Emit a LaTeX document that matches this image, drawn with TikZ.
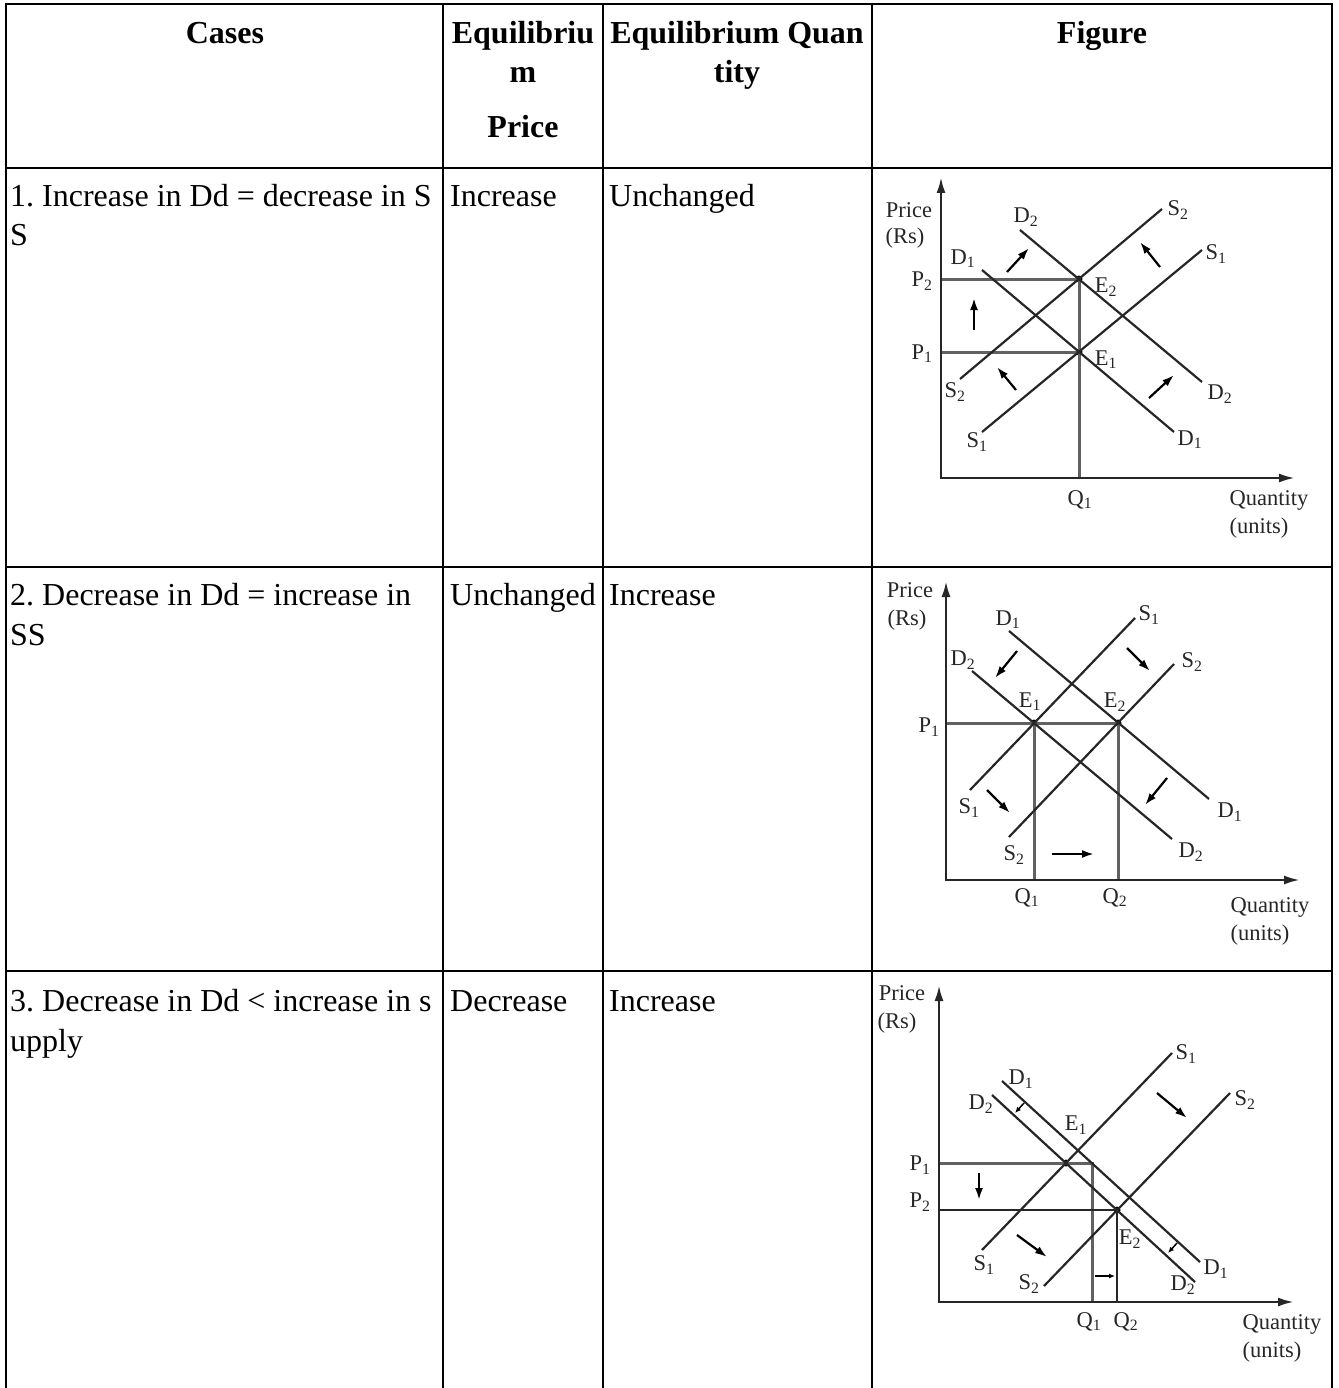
\documentclass[tikz,border=0pt]{standalone}
\usepackage{fontspec}
\setmainfont{Liberation Serif}
\usepackage{tikz}
\usetikzlibrary{arrows.meta}
\frenchspacing
\newcommand\sbs[2]{#1\textsubscript{#2}}
\tikzstyle{rule}=[line width=2pt,black]
\tikzstyle{cell}=[inner sep=0pt,anchor=base west,font=\fontsize{32}{40}\selectfont]
\tikzstyle{head}=[inner sep=0pt,anchor=base,font=\fontsize{32}{40}\selectfont\bfseries]
\tikzstyle{lbl}=[inner sep=0pt,font=\fontsize{22.5}{26}\selectfont,text=black!85]
\tikzstyle{curve}=[line width=2.2pt,draw=black!85]
\tikzstyle{guide}=[line width=3pt,draw=black!62]
\tikzstyle{thin}=[line width=2.2pt,draw=black!85]
\tikzstyle{axis}=[line width=2.6pt,draw=black!85,{Latex[length=16pt,width=9pt]}-{Latex[length=16pt,width=9pt]}]
\tikzstyle{move}=[line width=2.2pt,-{Latex[length=12pt,width=8pt]}]
\tikzstyle{nudge}=[line width=1.5pt,-{Latex[length=6pt,width=5pt]}]
\tikzstyle{eq}=[fill=black,circle,inner sep=0pt,minimum size=7pt]
\begin{document}
\begin{tikzpicture}[x=1pt,y=-1pt]
	\useasboundingbox (0,0) rectangle (1338,1388);
	% table
	\foreach \x in {6,443,603,872,1332} \draw[rule] (\x,3) -- (\x,1388);
	\foreach \y in {4,168,567,971} \draw[rule] (6,\y) -- (1332,\y);
	\node[head] (cases) at (225,44) {Cases};
	\node[head] (price) at (523,44) {Equilibriu};
	\node[head] (price2) at (523,83) {m};
	\node[head] (price3) at (523,138) {Price};
	\node[head] (qty) at (737,44) {Equilibrium Quan};
	\node[head] (qty2) at (737,83) {tity};
	\node[head] (fig) at (1102,44) {Figure};
	\node[cell] (c1) at (10,207) {1. Increase in Dd = decrease in S};
	\node[cell] (c1b) at (10,246) {S};
	\node[cell] (p1) at (450,207) {Increase};
	\node[cell] (q1) at (609,207) {Unchanged};
	\node[cell] (c2) at (10,605) {2. Decrease in Dd = increase in};
	\node[cell] (c2b) at (10,645) {SS};
	\node[cell] (p2) at (450,605) {Unchanged};
	\node[cell] (q2) at (609,605) {Increase};
	\node[cell] (c3) at (10,1011) {3. Decrease in Dd < increase in s};
	\node[cell] (c3b) at (10,1051) {upply};
	\node[cell] (p3) at (450,1011) {Decrease};
	\node[cell] (q3) at (609,1011) {Increase};
	% figure 1
	\coordinate (a-o) at (941,478); \coordinate (a-y) at (941,177); \coordinate (a-x) at (1295,478);
	\coordinate (a-p1) at (941,352); \coordinate (a-p2) at (941,279); \coordinate (a-q1) at (1079,478);
	\node[eq] (a-e1) at (1079,352) {}; \node[eq] (a-e2) at (1079,279) {};
	\draw[guide] (a-p2) -- (a-e2.center) -- (a-q1);
	\draw[guide] (a-p1) -- (a-e1.center);
	\draw[axis] (a-y) |- (a-x);
	\coordinate (a-d1a) at (982,270); \coordinate (a-d1b) at (1174,432);
	\coordinate (a-d2a) at (1020,230); \coordinate (a-d2b) at (1202,382);
	\coordinate (a-s1a) at (982,432); \coordinate (a-s1b) at (1202,250);
	\coordinate (a-s2a) at (960,379); \coordinate (a-s2b) at (1162,209);
	\draw[curve] (a-d1a) -- (a-d1b);
	\draw[curve] (a-d2a) -- (a-d2b);
	\draw[curve] (a-s1a) -- (a-s1b);
	\draw[curve] (a-s2a) -- (a-s2b);
	\draw[move] (1007,272) coordinate (a-m1) -- (1029,248) coordinate (a-m1e);
	\draw[move] (1160,267) coordinate (a-m2) -- (1140,242) coordinate (a-m2e);
	\draw[move] (974,330) coordinate (a-m3) -- (974,298) coordinate (a-m3e);
	\draw[move] (1016,390) coordinate (a-m4) -- (997,367) coordinate (a-m4e);
	\draw[move] (1149,398) coordinate (a-m5) -- (1174,375) coordinate (a-m5e);
	\node[lbl] (a-price) at (909,210) {Price};
	\node[lbl] (a-rs) at (905,238) {(Rs)};
	\node[lbl] (a-lp2) at (922,281) {\sbs{P}{2}};
	\node[lbl] (a-lp1) at (922,354) {\sbs{P}{1}};
	\node[lbl] (a-ld2) at (1026,217) {\sbs{D}{2}};
	\node[lbl] (a-ld1) at (963,259) {\sbs{D}{1}};
	\node[lbl] (a-ls2) at (1178,210) {\sbs{S}{2}};
	\node[lbl] (a-ls1) at (1216,254) {\sbs{S}{1}};
	\node[lbl] (a-le2) at (1106,287) {\sbs{E}{2}};
	\node[lbl] (a-le1) at (1106,360) {\sbs{E}{1}};
	\node[lbl] (a-ls2b) at (955,392) {\sbs{S}{2}};
	\node[lbl] (a-ld2b) at (1220,394) {\sbs{D}{2}};
	\node[lbl] (a-ls1b) at (977,442) {\sbs{S}{1}};
	\node[lbl] (a-ld1b) at (1190,440) {\sbs{D}{1}};
	\node[lbl] (a-lq1) at (1080,500) {\sbs{Q}{1}};
	\node[lbl] (a-qty) at (1269,500) {Quantity};
	\node[lbl] (a-units) at (1259,528) {(units)};
	% figure 2
	\coordinate (b-y) at (946,581); \coordinate (b-x) at (1300,880);
	\coordinate (b-p1) at (946,723); \coordinate (b-q1) at (1034,880); \coordinate (b-q2) at (1118,880);
	\node[eq] (b-e1) at (1034,723) {}; \node[eq] (b-e2) at (1118,723) {};
	\draw[guide] (b-p1) -- (b-e2.center) -- (b-q2);
	\draw[guide] (b-e1.center) -- (b-q1);
	\draw[axis] (b-y) |- (b-x);
	\coordinate (b-d1a) at (1009,631); \coordinate (b-d1b) at (1209,799);
	\coordinate (b-d2a) at (972,671); \coordinate (b-d2b) at (1172,839);
	\coordinate (b-s1a) at (970,790); \coordinate (b-s1b) at (1135,618);
	\coordinate (b-s2a) at (1009,837); \coordinate (b-s2b) at (1174,664);
	\draw[curve] (b-d1a) -- (b-d1b);
	\draw[curve] (b-d2a) -- (b-d2b);
	\draw[curve] (b-s1a) -- (b-s1b);
	\draw[curve] (b-s2a) -- (b-s2b);
	\draw[move] (1017,651) coordinate (b-m1) -- (995,678) coordinate (b-m1e);
	\draw[move] (1127,648) coordinate (b-m2) -- (1150,671) coordinate (b-m2e);
	\draw[move] (987,790) coordinate (b-m3) -- (1010,813) coordinate (b-m3e);
	\draw[move] (1167,778) coordinate (b-m4) -- (1145,805) coordinate (b-m4e);
	\draw[move] (1052,854) coordinate (b-m5) -- (1094,854) coordinate (b-m5e);
	\node[lbl] (b-price) at (910,590) {Price};
	\node[lbl] (b-rs) at (907,620) {(Rs)};
	\node[lbl] (b-ld1) at (1008,620) {\sbs{D}{1}};
	\node[lbl] (b-ld2) at (963,660) {\sbs{D}{2}};
	\node[lbl] (b-ls1) at (1149,615) {\sbs{S}{1}};
	\node[lbl] (b-ls2) at (1192,662) {\sbs{S}{2}};
	\node[lbl] (b-le1) at (1030,702) {\sbs{E}{1}};
	\node[lbl] (b-le2) at (1115,702) {\sbs{E}{2}};
	\node[lbl] (b-lp1) at (929,727) {\sbs{P}{1}};
	\node[lbl] (b-ls1b) at (969,808) {\sbs{S}{1}};
	\node[lbl] (b-ls2b) at (1014,855) {\sbs{S}{2}};
	\node[lbl] (b-ld1b) at (1230,812) {\sbs{D}{1}};
	\node[lbl] (b-ld2b) at (1191,852) {\sbs{D}{2}};
	\node[lbl] (b-lq1) at (1027,898) {\sbs{Q}{1}};
	\node[lbl] (b-lq2) at (1115,898) {\sbs{Q}{2}};
	\node[lbl] (b-qty) at (1270,907) {Quantity};
	\node[lbl] (b-units) at (1260,935) {(units)};
	% figure 3
	\coordinate (c-y) at (939,985); \coordinate (c-x) at (1294,1302);
	\coordinate (c-p1) at (939,1163); \coordinate (c-p2) at (939,1210);
	\coordinate (c-q1t) at (1092,1163); \coordinate (c-q1) at (1092,1302); \coordinate (c-q2) at (1117,1302);
	\node[eq] (c-e1) at (1066,1163) {}; \node[eq] (c-e2) at (1117,1210) {};
	\draw[guide] (c-p1) -- (c-q1t) -- (c-q1);
	\draw[thin] (c-p2) -- (c-e2.center) -- (c-q2);
	\draw[axis] (c-y) |- (c-x);
	\coordinate (c-d1a) at (1002,1081); \coordinate (c-d1b) at (1200,1262);
	\coordinate (c-d2a) at (992,1095); \coordinate (c-d2b) at (1195,1282);
	\coordinate (c-s1a) at (982,1250); \coordinate (c-s1b) at (1172,1053);
	\coordinate (c-s2a) at (1044,1286); \coordinate (c-s2b) at (1230,1093);
	\draw[curve] (c-d1a) -- (c-d1b);
	\draw[curve] (c-d2a) -- (c-d2b);
	\draw[curve] (c-s1a) -- (c-s1b);
	\draw[curve] (c-s2a) -- (c-s2b);
	\draw[nudge] (1024,1103) coordinate (c-n1) -- (1015,1113) coordinate (c-n1e);
	\draw[nudge] (1177,1243) coordinate (c-n2) -- (1168,1253) coordinate (c-n2e);
	\draw[move] (979,1173) coordinate (c-m1) -- (979,1200) coordinate (c-m1e);
	\draw[move] (1157,1093) coordinate (c-m2) -- (1187,1118) coordinate (c-m2e);
	\draw[move] (1017,1235) coordinate (c-m3) -- (1047,1257) coordinate (c-m3e);
	\draw[nudge] (1095,1276) coordinate (c-m4) -- (1115,1276) coordinate (c-m4e);
	\node[lbl] (c-price) at (902,993) {Price};
	\node[lbl] (c-rs) at (897,1023) {(Rs)};
	\node[lbl] (c-ls1) at (1186,1054) {\sbs{S}{1}};
	\node[lbl] (c-ls2) at (1245,1100) {\sbs{S}{2}};
	\node[lbl] (c-ld1) at (1021,1079) {\sbs{D}{1}};
	\node[lbl] (c-ld2) at (981,1104) {\sbs{D}{2}};
	\node[lbl] (c-le1) at (1076,1125) {\sbs{E}{1}};
	\node[lbl] (c-lp1) at (920,1165) {\sbs{P}{1}};
	\node[lbl] (c-lp2) at (920,1202) {\sbs{P}{2}};
	\node[lbl] (c-le2) at (1130,1239) {\sbs{E}{2}};
	\node[lbl] (c-ls1b) at (984,1265) {\sbs{S}{1}};
	\node[lbl] (c-ls2b) at (1029,1284) {\sbs{S}{2}};
	\node[lbl] (c-ld1b) at (1216,1269) {\sbs{D}{1}};
	\node[lbl] (c-ld2b) at (1183,1285) {\sbs{D}{2}};
	\node[lbl] (c-lq1) at (1089,1322) {\sbs{Q}{1}};
	\node[lbl] (c-lq2) at (1126,1322) {\sbs{Q}{2}};
	\node[lbl] (c-qty) at (1282,1324) {Quantity};
	\node[lbl] (c-units) at (1272,1352) {(units)};
\end{tikzpicture}
\end{document}
